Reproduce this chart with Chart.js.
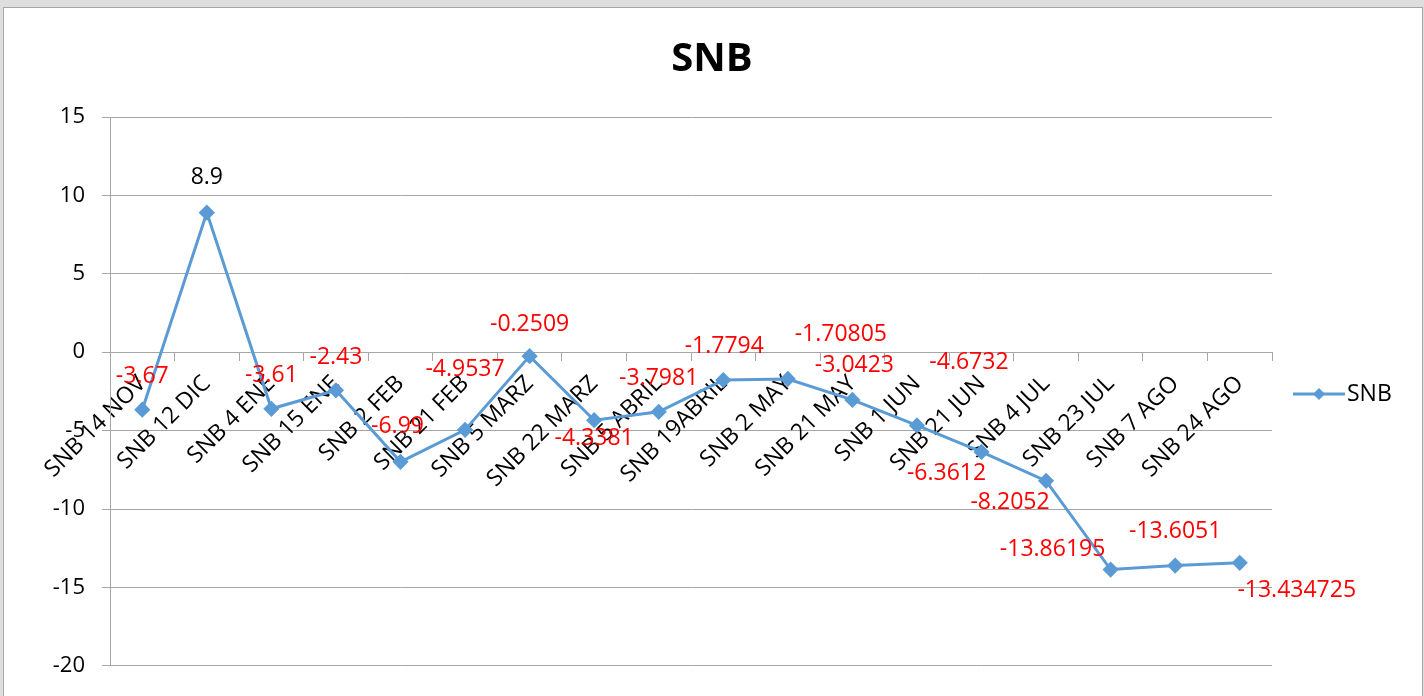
<!DOCTYPE html>
<html>
<head>
<meta charset="utf-8">
<script src="https://cdn.jsdelivr.net/npm/chart.js@4"></script>
<style>
  body { margin: 0; background: #dedede; overflow: hidden; }
  #wrap { position: absolute; left: 3px; top: 7px; width: 1418px; height: 700px; background: #fff; border: 1px solid #a6a6a6; }
  canvas { display: block; }
</style>
</head>
<body>
<div id="wrap"><canvas id="snb" width="1416" height="688"></canvas></div>
<script>
// data
const categories = ["SNB 14 NOV", "SNB 12 DIC", "SNB 4 ENE", "SNB 15 ENE", "SNB 2 FEB", "SNB 21 FEB",
  "SNB 5 MARZ", "SNB 22 MARZ", "SNB 5 ABRIL", "SNB 19ABRIL", "SNB 2 MAY", "SNB 21 MAY",
  "SNB 1 JUN", "SNB 21 JUN", "SNB 4 JUL", "SNB 23 JUL", "SNB 7 AGO", "SNB 24 AGO"];
const snbValues = [-3.67, 8.9, -3.61, -2.43, -6.99, -4.9537, -0.2509, -4.3381, -3.7981, -1.7794,
  -1.70805, -3.0423, -4.6732, -6.3612, -8.2052, -13.86195, -13.6051, -13.434725];
const yTicks = [15, 10, 5, 0, -5, -10, -15, -20];

// label placement (excel style, relative to each point)
const labelOffsets = [[0,-33],[0,-35],[0,-33],[0,-33],[-3,-35],[0,-60],[0,-32],[0,18],[0,-33],[1,-34],
  [53,-45],[2,-34],[52,-63],[-35,22],[-36,22],[-58,-20],[0,-34],[57,28]];

const FONT = "'Open Sans', sans-serif";
const lineColor = "#5b9bd5";
const gridColor = "#a6a6a6";

const valueLabels = {
  id: "valueLabels",
  afterDatasetsDraw(chart) {
    const ctx = chart.ctx;
    const meta = chart.getDatasetMeta(0);
    ctx.save();
    ctx.font = "23px " + FONT;
    ctx.textAlign = "center";
    ctx.textBaseline = "middle";
    meta.data.forEach((pt, i) => {
      ctx.fillStyle = snbValues[i] > 0 ? "#000" : "#ff0000";
      ctx.fillText(String(snbValues[i]), pt.x + labelOffsets[i][0], pt.y + labelOffsets[i][1]);
    });
    ctx.restore();
  }
};

// title over the whole frame + legend at the right
const frameText = {
  id: "frameText",
  afterDraw(chart) {
    const ctx = chart.ctx;
    ctx.save();
    ctx.fillStyle = "#000";
    ctx.font = "bold 40px " + FONT;
    ctx.textAlign = "center";
    ctx.textBaseline = "middle";
    ctx.fillText("SNB", chart.width / 2, 52);

    const y = 386;
    ctx.strokeStyle = lineColor;
    ctx.lineWidth = 3;
    ctx.beginPath();
    ctx.moveTo(1289, y);
    ctx.lineTo(1341, y);
    ctx.stroke();
    ctx.fillStyle = lineColor;
    ctx.beginPath();
    ctx.moveTo(1315, y - 6);
    ctx.lineTo(1321, y);
    ctx.lineTo(1315, y + 6);
    ctx.lineTo(1309, y);
    ctx.closePath();
    ctx.fill();
    ctx.fillStyle = "#000";
    ctx.font = "23px " + FONT;
    ctx.textAlign = "left";
    ctx.fillText("SNB", 1343, y);
    ctx.restore();
  }
};

new Chart(document.getElementById("snb"), {
  type: "line",
  data: {
    labels: categories,
    datasets: [{
      label: "SNB",
      data: snbValues,
      borderColor: lineColor,
      backgroundColor: lineColor,
      borderWidth: 3,
      tension: 0,
      pointStyle: "rectRot",
      pointRadius: 6,
      pointHoverRadius: 6
    }]
  },
  options: {
    responsive: false,
    animation: false,
    layout: { padding: { left: 0, right: 148, top: 109, bottom: 30 } },
    plugins: {
      legend: { display: false },
      tooltip: { enabled: false },
      title: { display: false }
    },
    scales: {
      x: {
        position: { y: 0 },
        offset: true,
        grid: { offset: true, drawOnChartArea: false, drawTicks: true, tickLength: 8, color: gridColor },
        border: { color: gridColor },
        ticks: {
          autoSkip: false, maxRotation: 45, minRotation: 45, padding: 10,
          color: "#000", font: { family: FONT, size: 23 }
        }
      },
      y: {
        min: -20,
        max: 15,
        afterBuildTicks(scale) { scale.ticks = yTicks.map(v => ({ value: v })); },
        afterFit(scale) { scale.width = 106; },
        grid: { color: gridColor, tickLength: 8 },
        border: { color: gridColor },
        ticks: { padding: 17, color: "#000", font: { family: FONT, size: 22 } }
      }
    }
  },
  plugins: [valueLabels, frameText]
});
</script>
</body>
</html>
